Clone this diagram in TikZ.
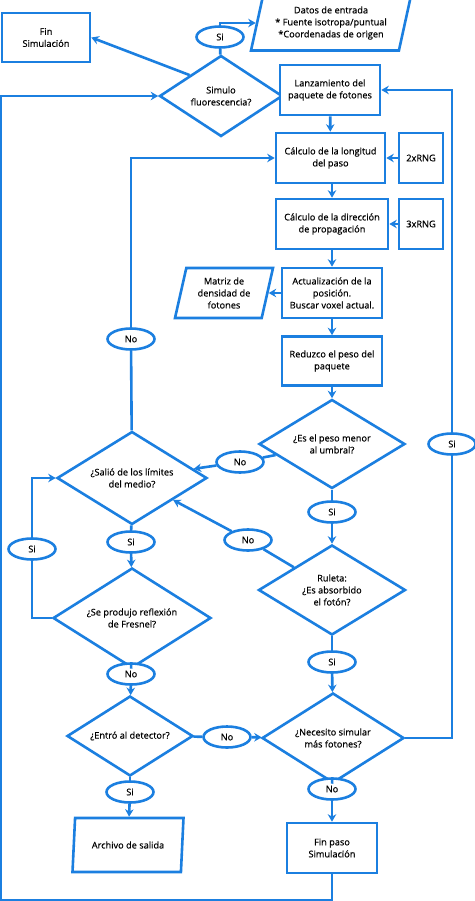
\documentclass[tikz,border=0pt]{standalone}
\usepackage{fontspec}
\setmainfont{Open Sans}[FakeBold=0.5]
\usetikzlibrary{shapes.geometric, arrows.meta, positioning}
\definecolor{myblue}{RGB}{27,127,224}
\tikzset{
  block/.style={rectangle, draw=myblue, fill=white, align=center,
    font=\fontsize{9.2}{12}\selectfont, line width=2.6pt, inner sep=1pt},
  decision/.style={diamond, draw=myblue, fill=white, align=center, aspect=1.6,
    font=\fontsize{9.2}{12}\selectfont, line width=2.6pt, inner sep=0pt},
  iobox/.style={trapezium, trapezium left angle=70, trapezium right angle=110,
    trapezium stretches body=true, draw=myblue, fill=white, align=center,
    font=\fontsize{9.2}{12}\selectfont, line width=2.6pt, inner sep=0pt},
  answer/.style={ellipse, draw=myblue, fill=white, minimum width=47pt,
    minimum height=21pt, inner sep=0pt, font=\fontsize{9.2}{12}\selectfont,
    line width=2.6pt},
  arrow/.style={-{Stealth[length=7.5pt,width=8.5pt]}, line width=2.6pt, draw=myblue},
  line/.style={line width=2.6pt, draw=myblue}
}

\begin{document}
\begin{tikzpicture}[x=1pt, y=-1pt]
  \useasboundingbox (0,0) rectangle (474,901);

  % Top part
  \node[block, minimum width=88pt, minimum height=49pt] (finsim) at (46,37.5) {Fin\\Simulación};
  \node[iobox, minimum width=160pt, minimum height=55pt] (datos) at (331,23) {Datos de entrada\\* Fuente isotropa/puntual\\*Coordenadas de origen};
  \node[decision, minimum width=123pt, minimum height=81pt] (simulo) at (221,96) {Simulo\\fluorescencia?};
  \node[answer] (sitop) at (220,37) {Si};

  % Main column
  \node[block, minimum width=100pt, minimum height=50pt] (lanz) at (330,90) {Lanzamiento del\\paquete de fotones};
  \node[block, minimum width=109pt, minimum height=50pt] (longitud) at (330.5,158) {Cálculo de la longitud\\del paso};
  \node[block, minimum width=44pt, minimum height=50pt] (rng2) at (421,158) {2xRNG};
  \node[block, minimum width=112pt, minimum height=50pt] (direccion) at (332,224) {Cálculo de la dirección\\de propagación};
  \node[block, minimum width=44pt, minimum height=50pt] (rng3) at (421,224) {3xRNG};
  \node[block, minimum width=100pt, minimum height=50pt] (actual) at (332,293) {Actualización de la\\posición.\\Buscar voxel actual.};
  \node[iobox, minimum width=98pt, minimum height=50pt] (matriz) at (224,293) {Matriz de\\densidad de\\fotones};
  \node[block, minimum width=100pt, minimum height=49pt] (reduzco) at (332,361) {Reduzco el peso del\\paquete};
  \node[decision, minimum width=146pt, minimum height=89pt] (peso) at (332,444) {¿Es el peso menor\\al umbral?};
  \node[decision, minimum width=147pt, minimum height=90pt] (ruleta) at (332,590) {Ruleta:\\¿Es absorbido\\el fotón?};
  \node[decision, minimum width=142pt, minimum height=90pt] (necesito) at (333,738) {¿Necesito simular\\más fotones?};
  \node[block, minimum width=90pt, minimum height=50pt] (finpaso) at (332,848) {Fin paso\\Simulación};

  % Left column
  \node[decision, minimum width=150pt, minimum height=93pt] (salio) at (132,478) {¿Salió de los límites\\del medio?};
  \node[decision, minimum width=158pt, minimum height=100pt] (fresnel) at (132,618) {¿Se produjo reflexión\\de Fresnel?};
  \node[decision, minimum width=126pt, minimum height=80pt] (entro) at (130,736) {¿Entró al detector?};
  \node[iobox, minimum width=111pt, minimum height=54pt] (archivo) at (128,845) {Archivo de salida};

  % Answers
  \node[answer] (siloop) at (452,444) {Si};
  \node[answer] (nosalio) at (131,339) {No};
  \node[answer] (nopeso) at (240,462) {No};
  \node[answer] (sipeso) at (332,512) {Si};
  \node[answer] (noruleta) at (248,540) {No};
  \node[answer] (sisalio) at (131,542) {Si};
  \node[answer] (sifresnel) at (32,549) {Si};
  \node[answer] (siruleta) at (332,662) {Si};
  \node[answer] (nofresnel) at (131,674) {No};
  \node[answer] (noentro) at (227,737) {No};
  \node[answer] (nonec) at (332,789) {No};
  \node[answer] (sientro) at (130,792) {Si};

  \coordinate (loopcorner) at (0.5,900.5);

  % Connectors
  \draw[line] (simulo) -- (sitop);
  \draw[arrow] (sitop.north) |- (datos.west);
  \draw[arrow] (simulo.north west) -- (finsim.east);
  \draw[arrow] (finpaso.south) |- (loopcorner) |- (simulo.west);
  \draw[line] (necesito.east) -| (siloop);
  \draw[arrow] (siloop) |- (lanz.east);
  \draw[arrow] (lanz) -- (longitud);
  \draw[arrow] (rng2) -- (longitud);
  \draw[arrow] (longitud.south -| direccion) -- (direccion);
  \draw[arrow] (rng3) -- (direccion);
  \draw[arrow] (direccion) -- (actual);
  \draw[arrow] (actual) -- (matriz);
  \draw[arrow] (actual) -- (reduzco);
  \draw[arrow] (reduzco) -- (peso);
  \draw[line] (peso) -- (nopeso);
  \draw[arrow] (nopeso) -- (salio);
  \draw[line] (peso) -- (sipeso);
  \draw[arrow] (sipeso) -- (ruleta);
  \draw[line] (ruleta) -- (noruleta);
  \draw[arrow] (noruleta) -- (salio);
  \draw[line] (ruleta) -- (siruleta);
  \draw[arrow] (siruleta) -- (necesito);
  \draw[line] (necesito) -- (nonec);
  \draw[arrow] (nonec) -- (finpaso);
  \draw[line] (salio) -- (nosalio);
  \draw[arrow] (nosalio) |- (longitud.west);
  \draw[line] (salio) -- (sisalio);
  \draw[arrow] (sisalio) -- (fresnel);
  \draw[line] (fresnel.west) -| (sifresnel);
  \draw[arrow] (sifresnel) |- (salio.west);
  \draw[line] (fresnel) -- (nofresnel);
  \draw[arrow] (nofresnel) -- (entro);
  \draw[line] (entro) -- (noentro);
  \draw[arrow] (noentro) -- (necesito);
  \draw[line] (entro) -- (sientro);
  \draw[arrow] (sientro) -- (archivo);
\end{tikzpicture}
\end{document}
